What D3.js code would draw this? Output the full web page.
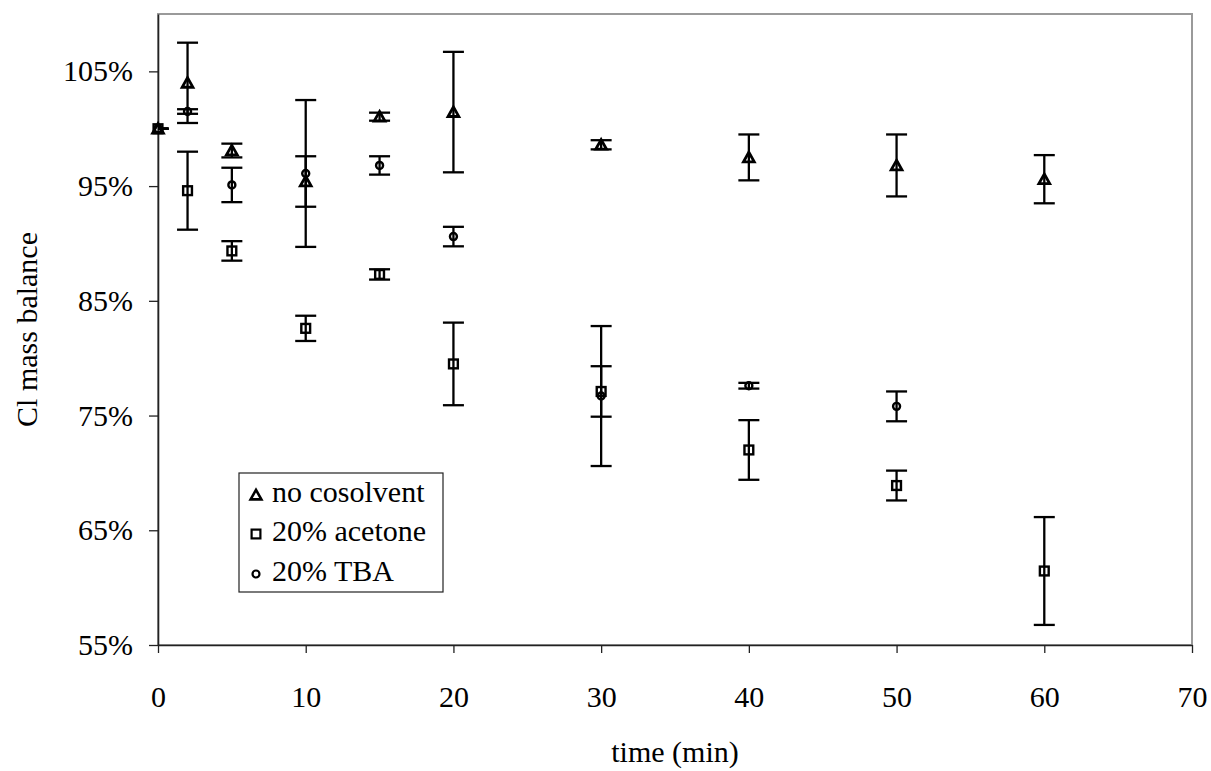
<!DOCTYPE html>
<html>
<head>
<meta charset="utf-8">
<script src="https://cdn.jsdelivr.net/npm/d3@7"></script>
<style>
  html, body { margin: 0; padding: 0; background: #fff; }
  svg text { font-family: "Liberation Serif", "Times New Roman", serif; fill: #000; }
</style>
</head>
<body>
<svg id="chart" width="1211" height="771"></svg>
<script>
// Sampling times (min) and Cl mass balance (%) with error half-widths
const timesNone = [0, 2, 5, 10, 15, 20, 30, 40, 50, 60];
const valuesNone = [100, 104.0, 98.1, 95.4, 101.05, 101.45, 98.6, 97.5, 96.8, 95.6];
const errNone = [0, 3.5, 0.6, 2.2, 0.35, 5.25, 0.4, 2.0, 2.7, 2.1];

const timesAcetone = [0, 2, 5, 10, 15, 20, 30, 40, 50, 60];
const valuesAcetone = [100, 94.6, 89.35, 82.6, 87.3, 79.5, 77.1, 72.0, 68.9, 61.45];
const errAcetone = [0, 3.4, 0.85, 1.1, 0.45, 3.6, 2.2, 2.6, 1.3, 4.7];

const timesTBA = [0, 2, 5, 10, 15, 20, 30, 40, 50];
const valuesTBA = [100, 101.5, 95.1, 96.1, 96.8, 90.6, 76.7, 77.6, 75.8];
const errTBA = [0, 0.2, 1.5, 6.4, 0.8, 0.85, 6.1, 0.25, 1.3];

const seriesNames = ["no cosolvent", "20% acetone", "20% TBA"];
const xTicks = [0, 10, 20, 30, 40, 50, 60, 70];
const yTicks = [55, 65, 75, 85, 95, 105];

const svg = d3.select("#chart");
const plotL = 158, plotR = 1192, plotT = 14, plotB = 645;

const x = d3.scaleLinear().domain([0, 70]).range([plotL, plotR]);
const y = d3.scaleLinear().domain([55, 110]).range([plotB, plotT]);

// plot area frame
svg.append("rect")
  .attr("x", plotL).attr("y", plotT)
  .attr("width", plotR - plotL).attr("height", plotB - plotT)
  .attr("fill", "none").attr("stroke", "#9a9a9a").attr("stroke-width", 2);

svg.append("defs").append("clipPath").attr("id", "plotClip")
  .append("rect").attr("x", plotL).attr("y", 0)
  .attr("width", plotR - plotL + 20).attr("height", 771);

const fontSize = 30;

// axes
const xAxis = d3.axisBottom(x).tickValues(xTicks).tickSizeInner(8).tickSizeOuter(0).tickPadding(33);
const gx = svg.append("g").attr("transform", `translate(0,${plotB})`).call(xAxis);
const yAxis = d3.axisLeft(y).tickValues(yTicks).tickSizeInner(9).tickSizeOuter(0).tickPadding(16)
  .tickFormat(d => d + "%");
const gy = svg.append("g").attr("transform", `translate(${plotL},0)`).call(yAxis);

[gx, gy].forEach(g => {
  g.select(".domain").attr("stroke", "#222").attr("stroke-width", 1.6);
  g.selectAll(".tick line").attr("stroke", "#222").attr("stroke-width", 1.3);
  g.selectAll(".tick text").attr("font-size", fontSize).attr("font-family", "Liberation Serif").attr("fill", "#000");
});

// axis titles
svg.append("text")
  .attr("x", (plotL + plotR) / 2).attr("y", 762)
  .attr("text-anchor", "middle").attr("font-size", fontSize)
  .text("time (min)");
svg.append("text")
  .attr("transform", `translate(37,${(plotT + plotB) / 2}) rotate(-90)`)
  .attr("text-anchor", "middle").attr("font-size", fontSize)
  .text("Cl mass balance");

// marker shapes
function drawMarker(g, kind, cx, cy, sw) {
  if (kind === "triangle") {
    g.append("path").attr("d", "M0,-5.2L5.4,4.4L-5.4,4.4Z")
      .attr("transform", `translate(${cx},${cy})`)
      .attr("fill", "none").attr("stroke", "#000").attr("stroke-width", sw + 0.4)
      .attr("stroke-linejoin", "miter");
  } else if (kind === "square") {
    g.append("rect").attr("x", cx - 4.4).attr("y", cy - 4.4)
      .attr("width", 8.8).attr("height", 8.8)
      .attr("fill", "none").attr("stroke", "#000").attr("stroke-width", sw);
  } else {
    g.append("circle").attr("cx", cx).attr("cy", cy).attr("r", 3.5)
      .attr("fill", "none").attr("stroke", "#000").attr("stroke-width", sw);
  }
}

const series = [
  { name: seriesNames[0], kind: "triangle", t: timesNone, v: valuesNone, e: errNone },
  { name: seriesNames[1], kind: "square", t: timesAcetone, v: valuesAcetone, e: errAcetone },
  { name: seriesNames[2], kind: "circle", t: timesTBA, v: valuesTBA, e: errTBA }
];

const capHalf = 10.5;
const errG = svg.append("g").attr("clip-path", "url(#plotClip)")
  .attr("stroke", "#000").attr("stroke-width", 2.3);
const markG = svg.append("g");

series.forEach(s => {
  s.t.forEach((t, i) => {
    const cx = x(t);
    const hi = y(s.v[i] + s.e[i]);
    const lo = y(s.v[i] - s.e[i]);
    errG.append("line").attr("x1", cx).attr("x2", cx).attr("y1", hi).attr("y2", lo);
    errG.append("line").attr("x1", cx - capHalf).attr("x2", cx + capHalf).attr("y1", hi).attr("y2", hi);
    errG.append("line").attr("x1", cx - capHalf).attr("x2", cx + capHalf).attr("y1", lo).attr("y2", lo);
  });
});
series.forEach(s => {
  s.t.forEach((t, i) => drawMarker(markG, s.kind, x(t), y(s.v[i]), 2.4));
});

// legend
const lg = svg.append("g");
lg.append("rect").attr("x", 239).attr("y", 473).attr("width", 204).attr("height", 119)
  .attr("fill", "#fff").attr("stroke", "#222").attr("stroke-width", 1.2);
const legendRows = [495, 534, 574];
series.forEach((s, i) => {
  drawMarker(lg, s.kind, 256, legendRows[i], 2.2);
  lg.append("text").attr("x", 272).attr("y", legendRows[i] + 7)
    .attr("font-size", fontSize).text(s.name);
});
</script>
</body>
</html>
